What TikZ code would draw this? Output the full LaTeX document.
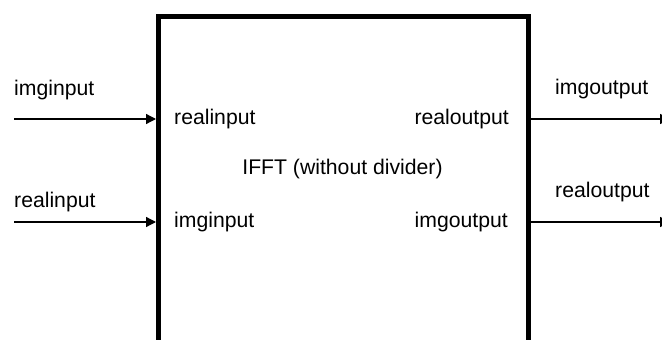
\documentclass[tikz,border=0pt]{standalone}
\usepackage{fontspec}
\setmainfont{Liberation Sans}
\usetikzlibrary{arrows.meta}

\begin{document}
\begin{tikzpicture}[x=1pt, y=-1pt,
    every node/.style={inner sep=0pt, font=\fontsize{21.2}{25}\selectfont},
    wire/.style={line width=1.3pt, -{Triangle[length=10pt, width=10pt]}}]
    \clip (0,0) rectangle (662,340);

    % the block, open towards the bottom
    \node[draw, line width=5pt, minimum width=370pt, minimum height=400pt, anchor=north west] (ifft) at (156,14) {};
    \node[anchor=base] (title) at (342.5,174) {IFFT (without divider)};

    % ports: y of the wire / label inside / label outside
    \foreach \y/\p/\inlab/\outlab in {119/1/realinput/imginput, 222/2/imginput/realinput} {
        \coordinate (src\p) at (14,\y);
        \coordinate (dst\p) at (670,\y);
        \draw[wire] (src\p) -- (ifft.west |- src\p);
        \draw[wire] (ifft.east |- dst\p) -- (dst\p);
        \node[anchor=base west] (pin\p) at (174,\y+5) {\inlab};
    }
    \node[anchor=base east] (pout1) at (509,124) {realoutput};
    \node[anchor=base east] (pout2) at (508,227) {imgoutput};

    \node[anchor=base west] (lin1) at (14,95) {imginput};
    \node[anchor=base west] (lin2) at (14,207) {realinput};
    \node[anchor=base west] (lout1) at (555,94) {imgoutput};
    \node[anchor=base west] (lout2) at (555,197) {realoutput};
\end{tikzpicture}
\end{document}
